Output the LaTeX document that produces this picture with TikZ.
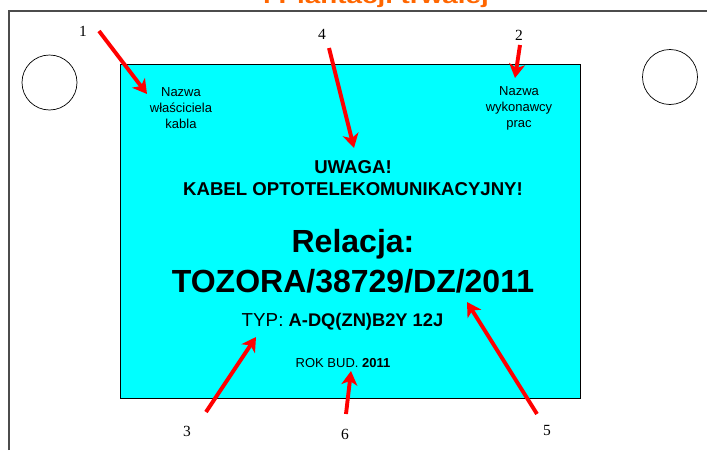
\documentclass[tikz,border=0pt]{standalone}
\usepackage{graphicx}
\usepackage{fontspec}
\setmainfont{Liberation Sans}
\newfontfamily\serifnum{Liberation Serif}
\definecolor{cyanfill}{RGB}{0,255,255}
\definecolor{titleorange}{RGB}{255,102,0}
\usetikzlibrary{arrows.meta}
\tikzset{
  x=1pt,y=-1pt,
  txt/.style={inner sep=0pt,align=center,text=black},
  num/.style={inner sep=0pt,font=\serifnum\fontsize{15.5}{16}\selectfont},
  redarrow/.style={draw=red,line width=3.9pt,-{Stealth[length=14pt,width=16pt,inset=4pt]}},
  hole/.style={circle,draw=black,line width=0.7pt,fill=white,minimum size=55pt,inner sep=0pt},
}
\begin{document}
\begin{tikzpicture}
\useasboundingbox (0,0) rectangle (707,450);
\clip (0,0) rectangle (707,450);
\draw[line width=1.5pt,draw=black!70] (9,450) -- (9,11) -- (707,11);
\node[txt,anchor=base,font=\bfseries\fontsize{20}{20}\selectfont,text=titleorange] (title) at (376,3.2) {\scalebox{1.39}[1]{i Plantacji trwałej}};
\node[hole] (h1) at (49.5,82.5) {};
\node[hole] (h2) at (670,77) {};
\node[draw=black,line width=0.9pt,fill=cyanfill,minimum width=460pt,minimum height=334pt,inner sep=0pt] (panel) at (350,231.5) {};
\node[txt,font=\fontsize{13}{16}\selectfont] (owner) at (181,108.5) {Nazwa\\właściciela\\kabla};
\node[txt,font=\fontsize{13}{16}\selectfont] (contractor) at (519,108) {Nazwa\\wykonawcy\\prac};
\node[txt,font=\bfseries\fontsize{18.6}{21.5}\selectfont] (warn) at (353,178) {UWAGA!\\KABEL OPTOTELEKOMUNIKACYJNY!};
\node[txt,font=\bfseries\fontsize{32}{40}\selectfont] (rel) at (353,261) {Relacja:\\TOZORA/38729/DZ/2011};
\node[txt,font=\fontsize{18.8}{20}\selectfont] (typ) at (342.5,321.5) {TYP: \textbf{\fontsize{18.3}{20}\selectfont A-DQ(ZN)B2Y 12J}};
\node[txt,font=\fontsize{13}{15}\selectfont] (rok) at (343,363.5) {ROK BUD. \textbf{2011}};
\node[num] (n1) at (83,31) {1};
\node[num] (n2) at (519,35) {2};
\node[num] (n3) at (187,431) {3};
\node[num] (n4) at (322,34) {4};
\node[num] (n5) at (547,430) {5};
\node[num] (n6) at (345,434) {6};
\coordinate (a1s) at (99,31);\coordinate (a1e) at (147,94);
\coordinate (a2s) at (520,45);\coordinate (a2e) at (515,78);
\coordinate (a3s) at (206,412);\coordinate (a3e) at (256,337);
\coordinate (a4s) at (329,48);\coordinate (a4e) at (354,148);
\coordinate (a5s) at (537,414);\coordinate (a5e) at (467,302);
\coordinate (a6s) at (346,414);\coordinate (a6e) at (351,371);
\foreach \i in {1,...,6}{\draw[redarrow] (a\i s) -- (a\i e);}
\end{tikzpicture}
\end{document}
